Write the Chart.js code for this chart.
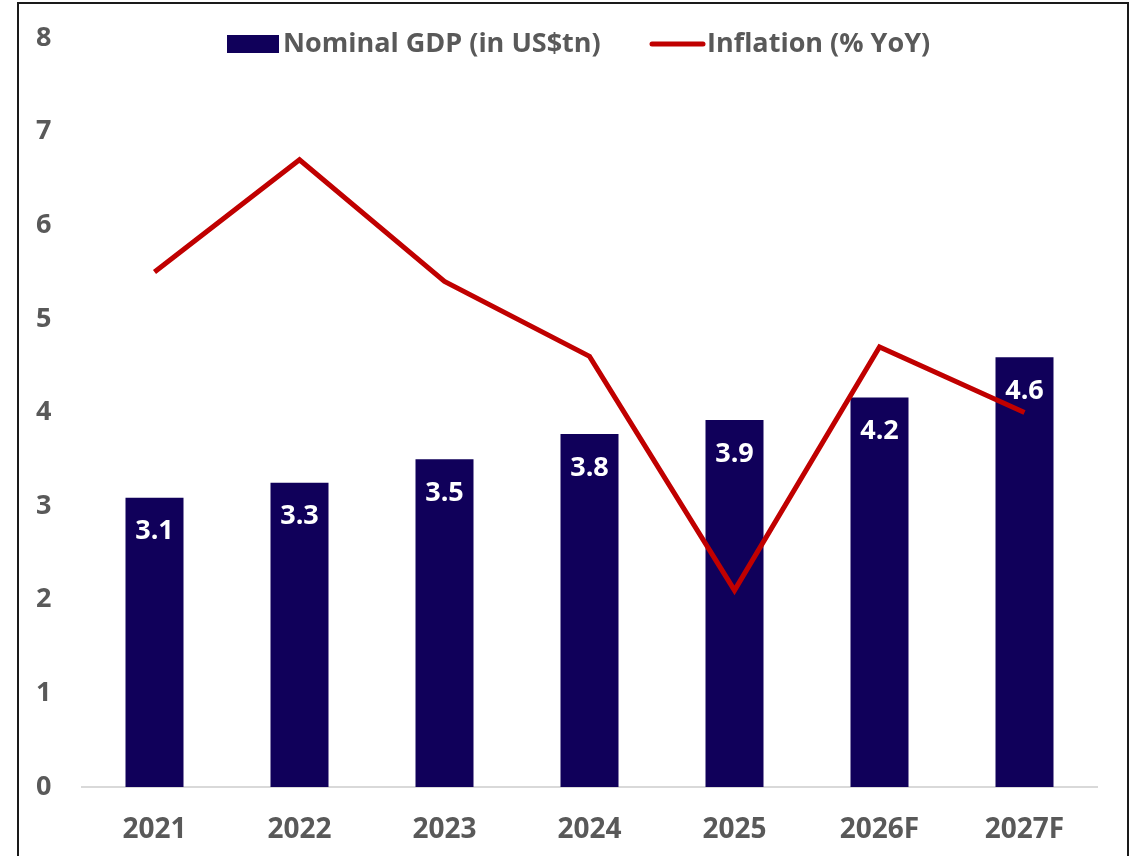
<!DOCTYPE html>
<html>
<head>
<meta charset="utf-8">
<script src="https://cdn.jsdelivr.net/npm/chart.js@4"></script>
<style>
  html, body { margin: 0; padding: 0; background: #fff; overflow: hidden; }
  #wrap { position: absolute; left: 0; top: 0; width: 1135px; height: 856px; }
  #frame { position: absolute; left: 17px; top: 2px; width: 1112px; height: 900px; border: 2px solid #1a1a1a; box-sizing: border-box; pointer-events: none; }
</style>
</head>
<body>
<div id="wrap"><canvas id="c" width="1135" height="856"></canvas></div>
<div id="frame"></div>
<script>
const categories = ['2021', '2022', '2023', '2024', '2025', '2026F', '2027F'];
const gdpValues = [3.09, 3.25, 3.50, 3.77, 3.92, 4.16, 4.59];
const gdpLabels = ['3.1', '3.3', '3.5', '3.8', '3.9', '4.2', '4.6'];
const inflationValues = [5.5, 6.7, 5.4, 4.6, 2.1, 4.7, 4.0];
const yTicks = [0, 1, 2, 3, 4, 5, 6, 7, 8];

const FONT = '"Open Sans", Lato, sans-serif';
const FSIZE = 27;
const BAR_COLOR = '#10005a';
const LINE_COLOR = '#c00000';
const TEXT_COLOR = '#595959';

const barLabels = {
  id: 'barLabels',
  afterDatasetsDraw(chart) {
    const ctx = chart.ctx;
    const meta = chart.getDatasetMeta(0);
    ctx.save();
    ctx.fillStyle = '#ffffff';
    ctx.font = 'bold ' + FSIZE + 'px ' + FONT;
    ctx.textAlign = 'center';
    ctx.textBaseline = 'middle';
    meta.data.forEach((bar, i) => {
      ctx.fillText(gdpLabels[i], bar.x, bar.y + 34);
    });
    ctx.restore();
  }
};

const customLegend = {
  id: 'customLegend',
  afterDraw(chart) {
    const ctx = chart.ctx;
    ctx.save();
    ctx.font = 'bold ' + FSIZE + 'px ' + FONT;
    ctx.textBaseline = 'middle';
    ctx.textAlign = 'left';
    ctx.fillStyle = BAR_COLOR;
    ctx.fillRect(227, 35, 52, 18);
    ctx.fillStyle = TEXT_COLOR;
    ctx.fillText(chart.data.datasets[0].label, 283, 44);
    ctx.strokeStyle = LINE_COLOR;
    ctx.lineWidth = 5;
    ctx.lineCap = 'round';
    ctx.beginPath();
    ctx.moveTo(652, 44);
    ctx.lineTo(703, 44);
    ctx.stroke();
    ctx.fillText(chart.data.datasets[1].label, 707, 44);
    ctx.restore();
  }
};

new Chart(document.getElementById('c'), {
  data: {
    labels: categories,
    datasets: [
      {
        type: 'bar',
        label: 'Nominal GDP (in US$tn)',
        data: gdpValues,
        backgroundColor: BAR_COLOR,
        borderWidth: 0,
        categoryPercentage: 1.0,
        barPercentage: 0.4,
        order: 2
      },
      {
        type: 'line',
        label: 'Inflation (% YoY)',
        data: inflationValues,
        borderColor: LINE_COLOR,
        borderWidth: 5,
        pointRadius: 0,
        tension: 0,
        fill: false,
        order: 1,
        borderJoinStyle: 'miter'
      }
    ]
  },
  options: {
    responsive: false,
    animation: false,
    devicePixelRatio: 1,
    layout: { padding: { left: 36, right: 38, top: 38, bottom: 0 } },
    plugins: {
      legend: { display: false },
      tooltip: { enabled: false }
    },
    scales: {
      x: {
        grid: { display: false, drawTicks: false },
        border: { display: true, color: '#d9d9d9', width: 2 },
        ticks: { color: TEXT_COLOR, font: { family: FONT, size: 28, weight: 'bold' }, padding: 26 },
        afterFit(scale) { scale.height = 69; }
      },
      y: {
        min: 0,
        max: 8,
        afterBuildTicks(scale) { scale.ticks = yTicks.map(v => ({ value: v })); },
        grid: { display: false, drawTicks: false },
        border: { display: false },
        ticks: { color: TEXT_COLOR, font: { family: FONT, size: FSIZE, weight: 'bold' }, padding: 0, crossAlign: 'far' },
        afterFit(scale) { scale.width = 46; }
      }
    }
  },
  plugins: [barLabels, customLegend]
});
</script>
</body>
</html>
